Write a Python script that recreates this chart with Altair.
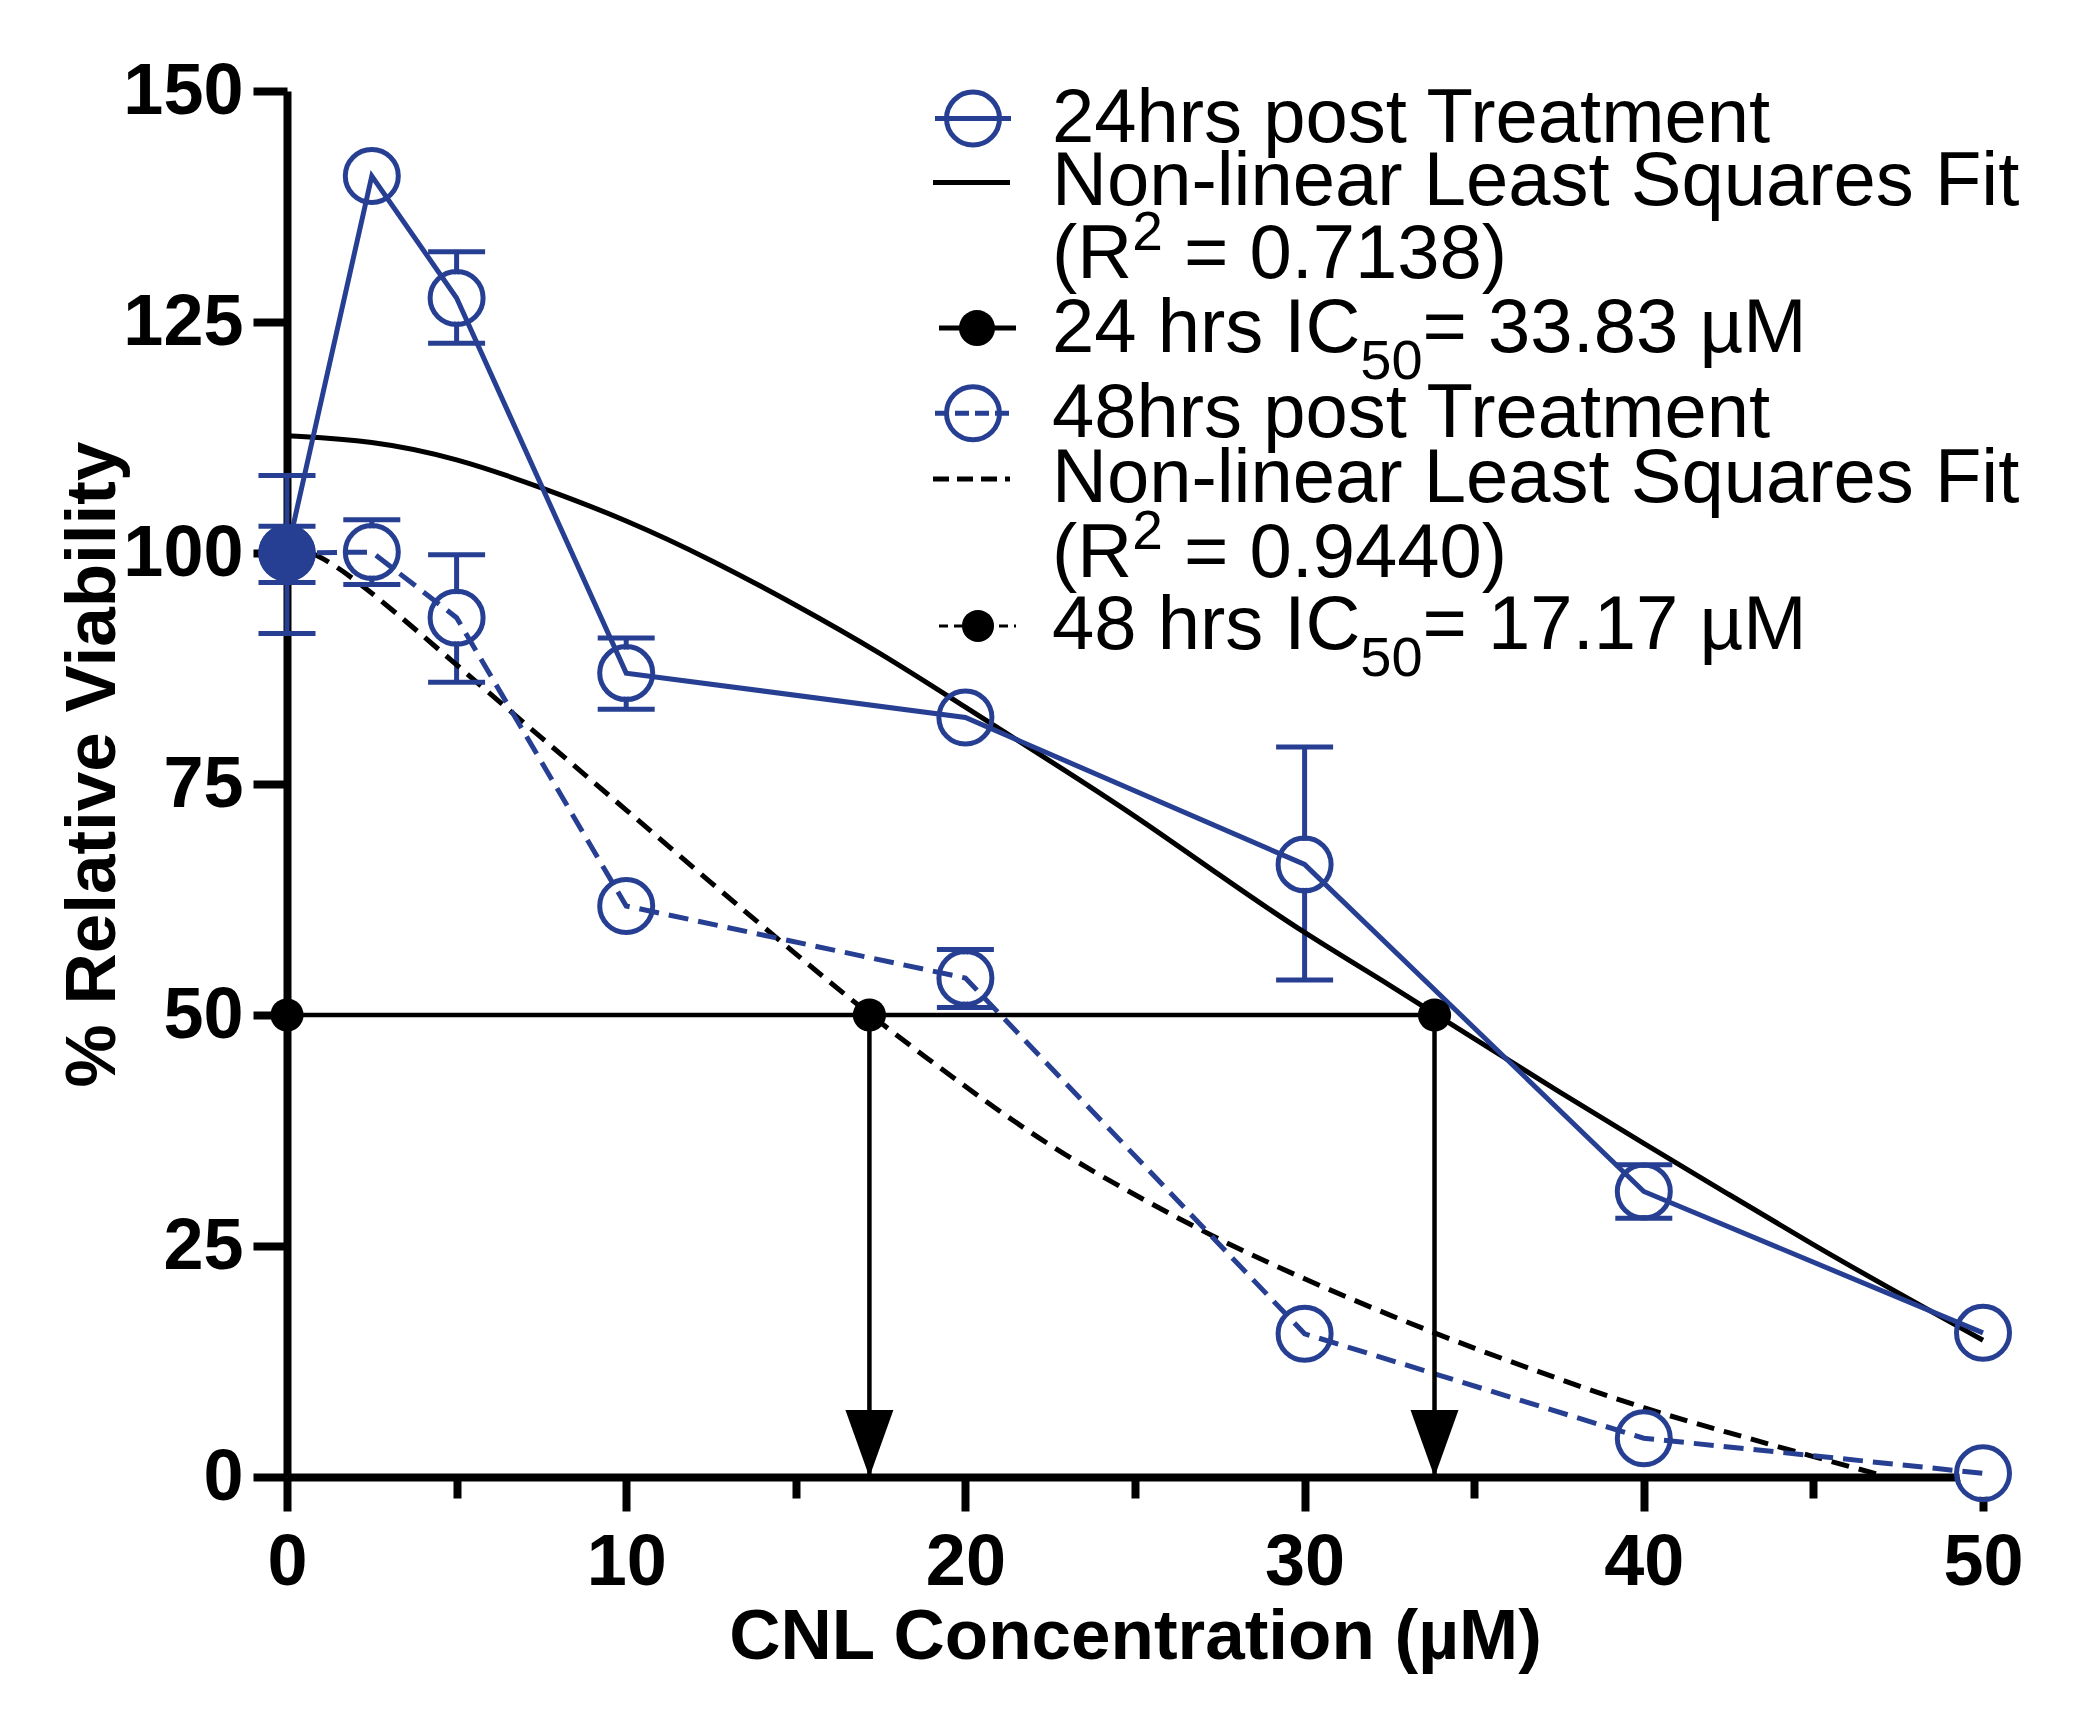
import altair as alt
import pandas as pd

BLUE = "#263F92"
FONT = "Liberation Sans"

# ---------------- data ----------------
conc = [0, 2.5, 5, 10, 20, 30, 40, 50]
viab_24 = [100.0, 140.8, 127.6, 87.0, 82.2, 66.3, 30.9, 15.6]
err_lo_24 = [91.3, None, 122.7, 83.1, None, 53.8, 28.0, None]
err_hi_24 = [108.4, None, 132.6, 90.8, None, 79.0, 33.8, None]
viab_48 = [100.0, 100.1, 93.0, 61.8, 54.0, 15.5, 4.2, 0.4]
err_lo_48 = [96.8, 96.6, 86.0, None, 50.8, None, None, None]
err_hi_48 = [102.9, 103.6, 99.8, None, 57.1, None, None, None]

fit_x_24 = [0, 2.5, 5, 7.5, 10, 12.5, 15, 17.5, 20, 22.5, 25, 27.5, 30, 32.5, 35, 37.5, 40, 42.5, 45, 47.5, 50]
fit_y_24 = [112.7, 112.2, 110.3, 107.1, 103.6, 99.3, 94.4, 89.2, 83.3, 77.5, 71.6, 65.1, 58.8, 53.3, 47.4, 41.7, 36.1, 30.6, 25.1, 19.9, 14.8]
fit_x_48 = [0, 1, 2.5, 5, 7.5, 10, 12.5, 15, 17.17, 20, 22.5, 25, 27.5, 30, 32.5, 35, 37.5, 40, 42.5, 45, 47.2]
fit_y_48 = [101.0, 99.8, 95.8, 87.9, 80.0, 72.2, 64.3, 56.6, 50.0, 42.2, 35.7, 30.5, 25.6, 21.4, 17.5, 13.9, 10.6, 7.4, 4.8, 2.2, 0.0]

ic50_conc = [17.17, 33.83]
ic50_level = 50

x_ticks = [0, 5, 10, 15, 20, 25, 30, 35, 40, 45, 50]
y_ticks = [0, 25, 50, 75, 100, 125, 150]

legend_24 = ["24hrs post Treatment", "Non-linear Least Squares Fit", "(R", "2", "= 0.7138)",
             "24 hrs IC", "50", "= 33.83 µM"]
legend_48 = ["48hrs post Treatment", "Non-linear Least Squares Fit", "(R", "2", "= 0.9440)",
             "48 hrs IC", "50", "= 17.17 µM"]

# ---------------- tables ----------------
pts = pd.DataFrame({
    "x": conc * 2,
    "y": viab_24 + viab_48,
    "lo": err_lo_24 + err_lo_48,
    "hi": err_hi_24 + err_hi_48,
    "series": ["24"] * len(conc) + ["48"] * len(conc),
})
err = pts.dropna(subset=["lo"]).reset_index(drop=True)
caps = pd.concat([err[["x", "lo"]].rename(columns={"lo": "y"}),
                  err[["x", "hi"]].rename(columns={"hi": "y"})], ignore_index=True)
fit24 = pd.DataFrame({"x": fit_x_24, "y": fit_y_24})
fit48 = pd.DataFrame({"x": fit_x_48, "y": fit_y_48})
ic_line = pd.DataFrame({"x": [0], "x2": [max(ic50_conc)], "y": [ic50_level]})
ic_drop = pd.DataFrame({"x": ic50_conc, "y": [ic50_level] * 2, "y2": [0] * 2})
ic_dots = pd.DataFrame({"x": [0] + ic50_conc, "y": [ic50_level] * 3})

W, H = 1696, 1386

xs = alt.Scale(domain=[0, 50], nice=False, zero=False)
ys = alt.Scale(domain=[0, 150], nice=False, zero=False)
XT = "CNL Concentration (µM)"
YT = "% Relative Viability"
xaxis = alt.Axis(values=x_ticks, labelExpr="datum.value % 10 == 0 ? datum.label : ''",
                 tickSize=alt.condition("datum.value % 10 == 0", alt.value(34), alt.value(21)),
                 labelPadding=16, titlePadding=4, labelFlush=False, labelOverlap=False)
yaxis = alt.Axis(values=y_ticks, tickSize=34, labelPadding=10, titlePadding=-7, titleY=673,
                 labelFlush=False, labelOverlap=False)


def X(f="x"):
    return alt.X(f, type="quantitative", scale=xs, axis=xaxis, title=XT)


def Y(f="y"):
    return alt.Y(f, type="quantitative", scale=ys, axis=yaxis, title=YT)


LW = 5
layers = []
# error bar stems
layers.append(alt.Chart(err).mark_rule(color=BLUE, strokeWidth=LW).encode(x=X(), y=Y("lo"), y2="hi"))
# white discs hide stems inside the open symbols
layers.append(alt.Chart(pts).transform_filter("datum.x > 0").mark_point(
    shape="circle", filled=True, color="white", opacity=1, size=2250).encode(x=X(), y=Y()))
# fit curves
layers.append(alt.Chart(fit24).mark_line(color="black", strokeWidth=5, interpolate="basis")
              .encode(x=X(), y=Y()))
layers.append(alt.Chart(fit48).mark_line(color="black", strokeWidth=5, strokeDash=[18, 10],
                                         interpolate="basis").encode(x=X(), y=Y()))
# data lines
layers.append(alt.Chart(pts).transform_filter("datum.series == '24'").mark_line(
    color=BLUE, strokeWidth=LW).encode(x=X(), y=Y()))
layers.append(alt.Chart(pts).transform_filter("datum.series == '48'").mark_line(
    color=BLUE, strokeWidth=LW, strokeDash=[20, 10]).encode(x=X(), y=Y()))
# caps
layers.append(alt.Chart(caps).mark_tick(orient="horizontal", color=BLUE, size=57, thickness=LW,
                                        opacity=1).encode(x=X(), y=Y()))
# symbols
layers.append(alt.Chart(pts).transform_filter("datum.x > 0").mark_point(
    shape="circle", filled=False, color=BLUE, strokeWidth=LW, opacity=1, size=2809).encode(x=X(), y=Y()))
layers.append(alt.Chart(pts).transform_filter("datum.x == 0").mark_point(
    shape="circle", filled=True, color=BLUE, opacity=1, size=3300).encode(x=X(), y=Y()))
# IC50 construction
layers.append(alt.Chart(ic_line).mark_rule(color="black", strokeWidth=4.5).encode(x=X(), x2="x2", y=Y()))
layers.append(alt.Chart(ic_drop).mark_rule(color="black", strokeWidth=4.5).encode(x=X(), y=Y(), y2="y2"))
layers.append(alt.Chart(ic_drop).mark_point(
    shape="M -0.358,-1 L 0.358,-1 L 0,0 Z", filled=True, color="black", opacity=1, size=17956)
    .encode(x=X(), y=Y("y2")))
layers.append(alt.Chart(ic_dots).mark_point(shape="circle", filled=True, color="black", opacity=1,
                                            size=1100).encode(x=X(), y=Y()))

# ---------------- legend (annotation, in pixel space) ----------------
one = pd.DataFrame({"a": [0]})


def seg(x1, x2, y, color, width, dash=None):
    kw = dict(color=color, strokeWidth=width)
    if dash:
        kw["strokeDash"] = dash
    return alt.Chart(one).mark_rule(**kw).encode(x=alt.value(x1), x2=alt.value(x2), y=alt.value(y))


def sym(x, y, size, color, filled, sw=LW):
    return alt.Chart(one).mark_point(shape="circle", filled=filled, color=color, opacity=1,
                                     size=size, strokeWidth=sw).encode(x=alt.value(x), y=alt.value(y))


def txt(s, x, y, fs=76):
    return alt.Chart(one).mark_text(text=s, align="left", baseline="alphabetic", font=FONT,
                                    fontSize=fs, color="black").encode(x=alt.value(x), y=alt.value(y))


def w(s, fs):
    adv = {"(": 333, ")": 333, "R": 722, " ": 278, "=": 584, ".": 278, "h": 556, "r": 333,
           "s": 500, "I": 278, "C": 722}
    return sum(adv.get(c, 556) for c in s) * fs / 1000.0


LX = 765
SUP = 55
SUB = 56
SPACE = 0.278 * 76
# baselines of: series row, fit row, R^2 row, IC50 row
rows_24 = (51.3, 114.4, 187.0, 260.6)
rows_48 = (346.0, 411.0, 485.6, 558.4)
for labels, (b1, b2, b3, b4), dashed in ((legend_24, rows_24, False), (legend_48, rows_48, True)):
    # series row
    layers.append(seg(648, 724, b1 - 23.7, BLUE, LW, [14, 6] if dashed else None))
    layers.append(sym(686, b1 - 23.7, 2809, BLUE, False))
    layers.append(txt(labels[0], LX, b1))
    # fit row
    layers.append(seg(646, 723, b2 - 23, "black", 5, [16, 8] if dashed else None))
    layers.append(txt(labels[1], LX, b2))
    # R^2 row
    layers.append(txt(labels[2], LX, b3))
    layers.append(txt(labels[3], LX + w(labels[2], 76), b3 - 28, SUP))
    layers.append(txt(labels[4], LX + w(labels[2], 76) + w(labels[3], SUP) + SPACE, b3))
    # IC50 row
    if dashed:
        layers.append(seg(652, 729, b4 - 23.5, "black", 3, [9, 6]))
        layers.append(sym(691, b4 - 23.5, 1024, "black", True))
    else:
        layers.append(seg(652, 729, b4 - 23.5, "black", 5))
        layers.append(sym(690, b4 - 23.5, 1296, "black", True))
    layers.append(txt(labels[5], LX, b4))
    layers.append(txt(labels[6], LX + w(labels[5], 76), b4 + 27, SUB))
    layers.append(txt(labels[7], LX + w(labels[5], 76) + w(labels[6], SUB), b4))

chart = alt.layer(*layers).properties(
    width=W, height=H,
    autosize=alt.AutoSizeParams(type="none"),
    padding={"left": 279, "top": 83, "right": 109, "bottom": 237},
).configure_view(stroke=None).configure_axis(
    labelFont=FONT, labelFontWeight="bold", labelFontSize=72, labelColor="black",
    titleFont=FONT, titleFontWeight="bold", titleFontSize=71, titleColor="black",
    domainColor="black", domainWidth=8, tickColor="black", tickWidth=8, grid=False,
)

chart.save("out.html", embed_options={"renderer": "svg", "actions": False})
